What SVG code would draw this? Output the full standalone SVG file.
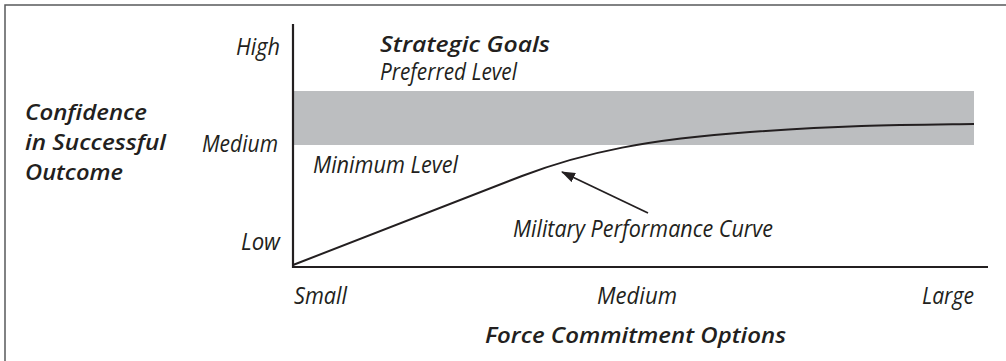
<svg xmlns="http://www.w3.org/2000/svg" width="1006" height="361" viewBox="0 0 1006 361">
  <style>
    .lbl { font-family: "Open Sans", "Noto Sans", "Liberation Sans", sans-serif; font-style: italic; font-size: 23px; fill: #231f20; }
    .bold { font-weight: 600; font-size: 22px; }
    .axis { stroke: #231f20; stroke-width: 2.2; fill: none; }
  </style>
  <defs>
    <marker id="arrow" markerWidth="14" markerHeight="10" refX="13" refY="5" orient="auto" markerUnits="userSpaceOnUse">
      <path d="M0,0 L14,5 L0,10 Z" fill="#231f20"/>
    </marker>
  </defs>
  <rect id="frame" x="5" y="5" width="1020" height="380" fill="#ffffff" stroke="#58595b" stroke-width="1.5"/>
  <g id="band">
    <rect x="293" y="91" width="681" height="54" fill="#bcbec0"/>
  </g>
  <g id="axes">
    <path class="axis" d="M293,24 L293,267 L988,267"/>
  </g>
  <g id="connectors">
    <path id="curve" d="M293,265 L522,176 C585,152 650,139 750,132 S900,125 974,124" fill="none" stroke="#231f20" stroke-width="2"/>
    <line id="pointer" x1="648" y1="213" x2="562" y2="172" stroke="#231f20" stroke-width="1.8" marker-end="url(#arrow)"/>
  </g>
  <g id="y-title">
    <text class="lbl bold" x="25" y="120" textLength="122" lengthAdjust="spacingAndGlyphs">Confidence</text>
    <text class="lbl bold" x="25" y="150" textLength="141" lengthAdjust="spacingAndGlyphs">in Successful</text>
    <text class="lbl bold" x="25" y="180" textLength="98" lengthAdjust="spacingAndGlyphs">Outcome</text>
  </g>
  <g id="y-ticks">
    <text class="lbl" x="236" y="55" textLength="44" lengthAdjust="spacingAndGlyphs">High</text>
    <text class="lbl" x="202" y="152" textLength="76" lengthAdjust="spacingAndGlyphs">Medium</text>
    <text class="lbl" x="241" y="250" textLength="39" lengthAdjust="spacingAndGlyphs">Low</text>
  </g>
  <g id="x-ticks">
    <text class="lbl" x="294" y="304" textLength="53" lengthAdjust="spacingAndGlyphs">Small</text>
    <text class="lbl" x="597" y="304" textLength="80" lengthAdjust="spacingAndGlyphs">Medium</text>
    <text class="lbl" x="922" y="304" textLength="52" lengthAdjust="spacingAndGlyphs">Large</text>
  </g>
  <g id="x-title">
    <text class="lbl bold" x="485" y="343" textLength="301" lengthAdjust="spacingAndGlyphs">Force Commitment Options</text>
  </g>
  <g id="goals">
    <text class="lbl bold" x="380" y="52" textLength="170" lengthAdjust="spacingAndGlyphs">Strategic Goals</text>
    <text class="lbl" x="380" y="80" textLength="137" lengthAdjust="spacingAndGlyphs">Preferred Level</text>
  </g>
  <g id="minimum">
    <text class="lbl" x="313" y="173" textLength="145" lengthAdjust="spacingAndGlyphs">Minimum Level</text>
  </g>
  <g id="curve-label">
    <text class="lbl" x="513" y="237" textLength="260" lengthAdjust="spacingAndGlyphs">Military Performance Curve</text>
  </g>
</svg>
